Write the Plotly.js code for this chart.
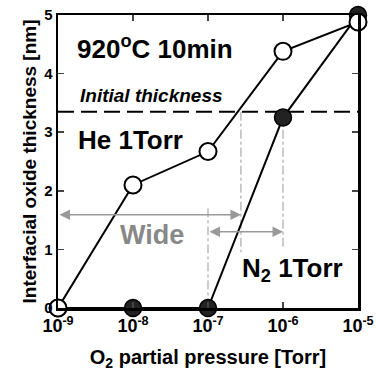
<!DOCTYPE html>
<html><head><meta charset="utf-8">
<script src="https://cdn.plot.ly/plotly-3.0.1.min.js"></script>
<style>html,body{margin:0;padding:0;background:#fff}#c{width:376px;height:371px}</style>
</head><body><div id="c"></div>
<script>
const pressure = [1e-9, 1e-8, 1e-7, 1e-6, 1e-5];
const heThickness = [0, 2.1, 2.67, 4.38, 4.88];
const n2Thickness = [0, 0, 0, 3.25, 5.0];
const initialThickness = 3.35;
const heCross = 2.75e-7;
const tickVals = [1e-9, 1e-8, 1e-7, 1e-6, 1e-5];
const tickText = ['10<sup>-9</sup>','10<sup>-8</sup>','10<sup>-7</sup>','10<sup>-6</sup>','10<sup>-5</sup>'];
const wideArrowY = 1.59, narrowArrowY = 1.3;

const F = 'Liberation Sans, Arial, sans-serif';
const gray = '#999';
const traces = [
  {x:[pressure[0], pressure[4]], y:[initialThickness, initialThickness], mode:'lines',
   line:{color:'#000', width:2, dash:'16px,7px'}, hoverinfo:'skip'},
  {x:[heCross, heCross], y:[initialThickness, 0.95], mode:'lines', line:{color:gray, width:1, dash:'dashdot'}},
  {x:[pressure[3], pressure[3]], y:[initialThickness, 1.0], mode:'lines', line:{color:gray, width:1, dash:'dashdot'}},
  {x:[pressure[2], pressure[2]], y:[1.7, 0], mode:'lines', line:{color:gray, width:1, dash:'dashdot'}},
  {x:pressure, y:n2Thickness, mode:'lines+markers', cliponaxis:false,
   line:{color:'#000', width:2}, marker:{size:17, color:'#222', line:{color:'#000', width:1.5}}},
  {x:pressure, y:heThickness, mode:'lines+markers', cliponaxis:false,
   line:{color:'#000', width:2}, marker:{size:17, color:'#fff', line:{color:'#000', width:2}}}
];
const ann = [
  {x:Math.log10(heCross), y:wideArrowY, ax:Math.log10(pressure[0]), ay:wideArrowY, axref:'x', ayref:'y',
   text:'', showarrow:true, arrowside:'end+start', arrowhead:2, arrowsize:1.4, arrowwidth:1.5, arrowcolor:gray},
  {x:Math.log10(pressure[3]), y:narrowArrowY, ax:Math.log10(pressure[2]), ay:narrowArrowY, axref:'x', ayref:'y',
   text:'', showarrow:true, arrowside:'end+start', arrowhead:2, arrowsize:1.4, arrowwidth:1.5, arrowcolor:gray},
  {x:-7.75, y:1.25, text:'<b>Wide</b>', showarrow:false, font:{family:F, size:27, color:'#888'}},
  {x:-5.87, y:0.65, text:'<b>N<sub>2</sub> 1Torr</b>', showarrow:false, font:{family:F, size:26, color:'#000'}},
  {x:-8.03, y:2.87, text:'<b>He 1Torr</b>', showarrow:false, font:{family:F, size:26, color:'#000'}},
  {x:-7.71, y:4.45, text:'<b>920<sup>o</sup>C 10min</b>', showarrow:false, font:{family:F, size:26, color:'#000'}},
  {x:-7.76, y:3.63, text:'<b><i>Initial thickness</i></b>', showarrow:false, font:{family:F, size:19, color:'#000'}}
];
Plotly.newPlot('c', traces, {
  width:376, height:371, showlegend:false,
  margin:{l:58, r:18, t:15, b:63},
  paper_bgcolor:'#fff', plot_bgcolor:'#fff',
  font:{family:F, color:'#000'},
  xaxis:{type:'log', range:[-9,-5], tickvals:tickVals, ticktext:tickText, ticks:'inside', ticklen:6, tickwidth:1.5,
    showgrid:false, zeroline:false, showline:true, linewidth:2.5, linecolor:'#000', mirror:'ticks',
    tickfont:{family:F, size:18, weight:'bold'},
    title:{text:'<b>O<sub>2</sub> partial pressure [Torr]</b>', font:{family:F, size:20}, standoff:18}},
  yaxis:{range:[0,5], dtick:1, ticks:'inside', ticklen:6, tickwidth:1.5,
    showgrid:false, zeroline:false, showline:true, linewidth:2.5, linecolor:'#000', mirror:'ticks',
    tickfont:{family:F, size:15, weight:'bold'},
    title:{text:'<b>Interfacial oxide thickness [nm]</b>', font:{family:F, size:19}, standoff:3}},
  annotations:ann
}, {staticPlot:true});
</script></body></html>
